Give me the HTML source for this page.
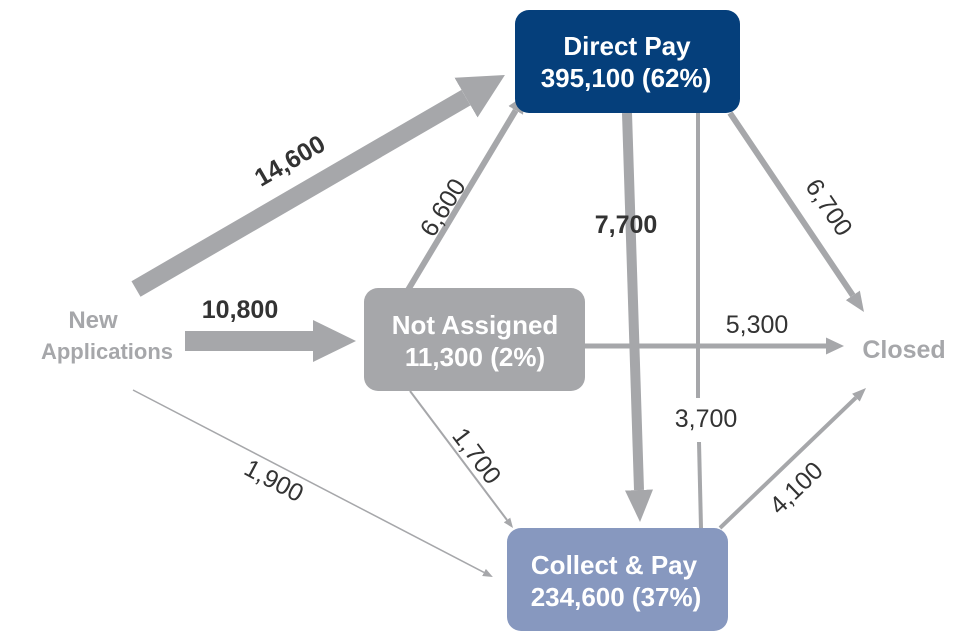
<!DOCTYPE html>
<html><head><style>body{margin:0;background:#fff}svg{display:block}</style></head><body>
<svg width="960" height="640" viewBox="0 0 960 640" xmlns="http://www.w3.org/2000/svg" font-family="Liberation Sans, Arial, sans-serif">
<defs>
<marker id="m1" viewBox="0 0 10 10" preserveAspectRatio="none" refX="0" refY="5" markerWidth="45" markerHeight="46" orient="auto" markerUnits="userSpaceOnUse"><path d="M0,0L10,5L0,10z" fill="#a6a7aa"/></marker>
<marker id="m2" viewBox="0 0 10 10" preserveAspectRatio="none" refX="0" refY="5" markerWidth="43" markerHeight="42" orient="auto" markerUnits="userSpaceOnUse"><path d="M0,0L10,5L0,10z" fill="#a6a7aa"/></marker>
<marker id="m3" viewBox="0 0 10 10" preserveAspectRatio="none" refX="0" refY="5" markerWidth="18" markerHeight="17" orient="auto" markerUnits="userSpaceOnUse"><path d="M0,0L10,5L0,10z" fill="#a6a7aa"/></marker>
<marker id="m4" viewBox="0 0 10 10" preserveAspectRatio="none" refX="0" refY="5" markerWidth="32" markerHeight="28" orient="auto" markerUnits="userSpaceOnUse"><path d="M0,0L10,5L0,10z" fill="#a6a7aa"/></marker>
<marker id="m5" viewBox="0 0 10 10" preserveAspectRatio="none" refX="0" refY="5" markerWidth="14" markerHeight="11" orient="auto" markerUnits="userSpaceOnUse"><path d="M0,0L10,5L0,10z" fill="#a6a7aa"/></marker>
<marker id="m6" viewBox="0 0 10 10" preserveAspectRatio="none" refX="0" refY="5" markerWidth="20" markerHeight="17" orient="auto" markerUnits="userSpaceOnUse"><path d="M0,0L10,5L0,10z" fill="#a6a7aa"/></marker>
<marker id="m7" viewBox="0 0 10 10" preserveAspectRatio="none" refX="0" refY="5" markerWidth="10" markerHeight="8" orient="auto" markerUnits="userSpaceOnUse"><path d="M0,0L10,5L0,10z" fill="#a6a7aa"/></marker>
</defs>
<g stroke="#a6a7aa" fill="none">
<line x1="136" y1="289" x2="466" y2="97.6" stroke-width="18" marker-end="url(#m1)"/>
<line x1="185" y1="341" x2="313" y2="341" stroke-width="20" marker-end="url(#m2)"/>
<line x1="408" y1="290" x2="515.7" y2="110.4" stroke-width="6" marker-end="url(#m3)"/>
<line x1="627" y1="113" x2="639" y2="490" stroke-width="10" marker-end="url(#m4)"/>
<line x1="701" y1="528" x2="699" y2="442" stroke-width="4"/>
<line x1="698" y1="398" x2="698" y2="109" stroke-width="4" marker-end="url(#m5)"/>
<line x1="730" y1="113" x2="852.8" y2="295.4" stroke-width="6" marker-end="url(#m6)"/>
<line x1="585" y1="346" x2="826" y2="346" stroke-width="5" marker-end="url(#m3)"/>
<line x1="720" y1="528" x2="855.9" y2="397.7" stroke-width="4" marker-end="url(#m5)"/>
<line x1="410" y1="391" x2="507" y2="520" stroke-width="2" marker-end="url(#m7)"/>
<line x1="133" y1="390" x2="484" y2="572.4" stroke-width="1.5" marker-end="url(#m7)"/>
</g>
<rect x="515" y="10" width="225" height="103" rx="14" fill="#053f7b"/>
<rect x="364" y="288" width="221" height="103" rx="14" fill="#a6a7aa"/>
<rect x="507" y="528" width="221" height="103" rx="14" fill="#8798bf"/>
<g fill="#fff" font-weight="bold" font-size="26" text-anchor="middle">
<text x="627" y="55">Direct Pay</text><text x="626" y="87">395,100 (62%)</text>
<text x="475" y="334">Not Assigned</text><text x="475" y="366">11,300 (2%)</text>
<text x="614" y="574">Collect &amp; Pay</text><text x="616" y="606">234,600 (37%)</text>
</g>
<g fill="#a6a7aa" font-weight="bold" font-size="24" text-anchor="middle">
<text x="93" y="328">New</text><text x="107" y="359" font-size="22">Applications</text>
<text x="904" y="358" font-size="25">Closed</text>
</g>
<g fill="#333" font-size="25" text-anchor="middle">
<text transform="translate(294,168) rotate(-30)" font-weight="bold">14,600</text>
<text x="240" y="318" font-weight="bold">10,800</text>
<text transform="translate(450,212) rotate(-58)">6,600</text>
<text x="626" y="233" font-weight="bold">7,700</text>
<text transform="translate(822,212) rotate(56)">6,700</text>
<text x="757" y="333">5,300</text>
<text x="706" y="427">3,700</text>
<text transform="translate(802,494) rotate(-44)">4,100</text>
<text transform="translate(470,461) rotate(53)">1,700</text>
<text transform="translate(270,488) rotate(28)">1,900</text>
</g>
</svg>
</body></html>
